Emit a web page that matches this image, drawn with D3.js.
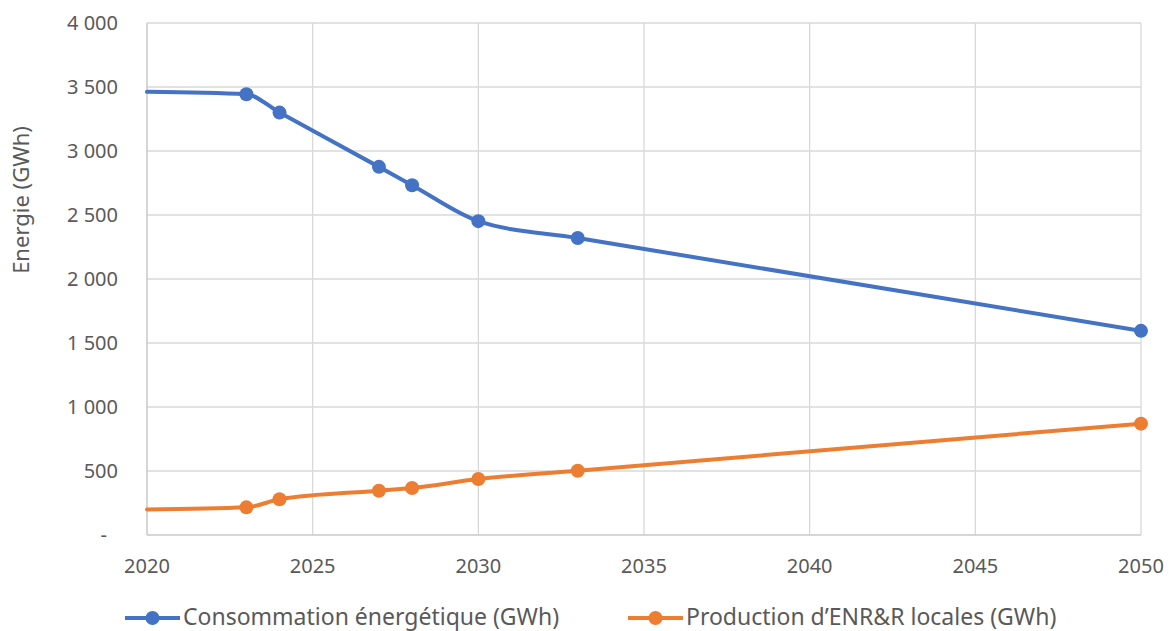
<!DOCTYPE html>
<html>
<head>
<meta charset="utf-8">
<script src="https://cdn.jsdelivr.net/npm/d3@7"></script>
<style>
  body { margin: 0; background: #fff; }
  text { font-family: "Noto Sans", sans-serif; fill: #595959; }
</style>
</head>
<body>
<div id="chart"></div>
<script>
// data
const years = [2020, 2023, 2024, 2027, 2028, 2030, 2033, 2050];
const consommation = [3462, 3443, 3300, 2876, 2733, 2452, 2320, 1595];
const production = [200, 216, 279, 346, 367, 437, 502, 870];
const xTicks = [2020, 2025, 2030, 2035, 2040, 2045, 2050];
const yTicks = [0, 500, 1000, 1500, 2000, 2500, 3000, 3500, 4000];
const seriesNames = ["Consommation énergétique (GWh)", "Production d’ENR&R locales (GWh)"];
const colors = ["#4472C4", "#ED7D31"];

// sizes
const wide = 1169;
const high = 631;
const plotL = 147, plotR = 1141, plotT = 23, plotB = 535;

const svg = d3.select("#chart")
  .append("svg")
  .attr("width", wide)
  .attr("height", high);

const x = d3.scaleLinear().domain([2020, 2050]).range([plotL, plotR]);
const y = d3.scaleLinear().domain([0, 4000]).range([plotB, plotT]);

// gridlines
svg.append("g")
  .selectAll("line")
  .data(yTicks.filter(d => d > 0))
  .join("line")
  .attr("x1", plotL).attr("x2", plotR)
  .attr("y1", d => y(d)).attr("y2", d => y(d))
  .attr("stroke", "#d9d9d9").attr("stroke-width", 1.3);

svg.append("g")
  .selectAll("line")
  .data(xTicks.filter(d => d > 2020))
  .join("line")
  .attr("x1", d => x(d)).attr("x2", d => x(d))
  .attr("y1", plotT).attr("y2", plotB)
  .attr("stroke", "#d9d9d9").attr("stroke-width", 1.3);

// axis lines
svg.append("line")
  .attr("x1", plotL).attr("x2", plotL).attr("y1", plotT).attr("y2", plotB)
  .attr("stroke", "#c8c8c8").attr("stroke-width", 1.5);
svg.append("line")
  .attr("x1", plotL).attr("x2", plotR).attr("y1", plotB).attr("y2", plotB)
  .attr("stroke", "#c8c8c8").attr("stroke-width", 1.5);

// y tick labels
const fmt = d => d === 0 ? "-" : d3.format(",")(d).replace(",", " ");
svg.append("g")
  .selectAll("text")
  .data(yTicks)
  .join("text")
  .attr("x", d => d === 0 ? 107 : 118)
  .attr("y", d => y(d))
  .attr("dy", "0.35em")
  .attr("text-anchor", "end")
  .style("font-size", "20px")
  .text(fmt);

// x tick labels
svg.append("g")
  .selectAll("text")
  .data(xTicks)
  .join("text")
  .attr("x", d => x(d))
  .attr("y", 573)
  .attr("text-anchor", "middle")
  .style("font-size", "20px")
  .text(d => d);

// y axis title
svg.append("text")
  .attr("transform", "translate(29,200) rotate(-90)")
  .attr("text-anchor", "middle")
  .style("font-size", "22px")
  .text("Energie (GWh)");

// lines (smoothed like the spreadsheet)
const line = d3.line()
  .x((d, i) => x(years[i]))
  .y(d => y(d))
  .curve(d3.curveMonotoneX);

[consommation, production].forEach((vals, k) => {
  svg.append("path")
    .datum(vals)
    .attr("fill", "none")
    .attr("stroke", colors[k])
    .attr("stroke-width", 4)
    .attr("stroke-linecap", "round")
    .attr("d", line);

  svg.append("g")
    .selectAll("circle")
    .data(vals.slice(1))
    .join("circle")
    .attr("cx", (d, i) => x(years[i + 1]))
    .attr("cy", d => y(d))
    .attr("r", 7)
    .attr("fill", colors[k]);
});

// legend
const legendX = [125, 628];
seriesNames.forEach((name, k) => {
  const g = svg.append("g").attr("transform", `translate(${legendX[k]},618)`);
  g.append("line")
    .attr("x1", 0).attr("x2", 55)
    .attr("stroke", colors[k]).attr("stroke-width", 4);
  g.append("circle").attr("cx", 27.5).attr("r", 7).attr("fill", colors[k]);
  g.append("text")
    .attr("x", 58)
    .attr("dy", "0.3em")
    .style("font-size", "23px")
    .text(name);
});
</script>
</body>
</html>
